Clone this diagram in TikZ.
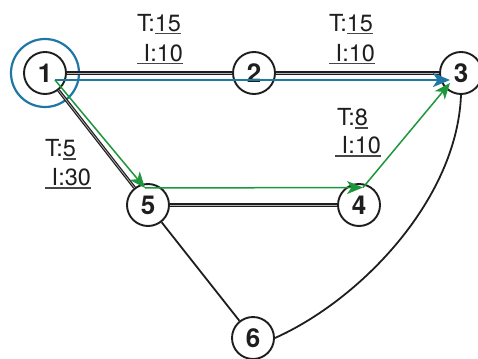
\documentclass[tikz,border=0pt]{standalone}
\usepackage{fontspec}
\setmainfont{TeX Gyre Heros}
\usetikzlibrary{arrows.meta}
\definecolor{pblue}{RGB}{31,119,166}
\definecolor{pgreen}{RGB}{30,150,60}
\definecolor{ulgray}{RGB}{70,70,70}
\definecolor{txt}{RGB}{30,30,30}
\newcommand\myul[1]{\setbox0\hbox{#1}\leavevmode\rlap{\textcolor{ulgray}{\rule[-3pt]{\wd0}{1.6pt}}}\box0}
\begin{document}
\begin{tikzpicture}[x=1pt,y=-1pt,
  vtx/.style={circle,draw=txt,text=txt,line width=1.9pt,minimum size=42pt,inner sep=0pt,font=\fontsize{26}{26}\selectfont\bfseries},
  dbl/.style={draw=txt,line width=1.2pt,double=white!70!black,double distance=0.7pt},
  sgl/.style={draw=txt,line width=1.8pt},
  lbl/.style={anchor=base west,inner sep=0pt,text=txt,font=\fontsize{23.5}{28}\selectfont},
  bluearr/.style={draw=pblue,fill=pblue,line width=2.2pt,-{Stealth[length=17pt,width=14pt,inset=4.5pt]}},
  greenarr/.style={draw=pgreen,fill=pgreen,line width=1.5pt,-{Stealth[length=16pt,width=13pt,inset=4.5pt]}}]
\useasboundingbox (0,0) rectangle (478,358);

\node[vtx] (n1) at (45,73) {1};
\node[vtx] (n2) at (254,73) {2};
\node[vtx] (n3) at (461,73) {3};
\node[vtx] (n4) at (359,205) {4};
\node[vtx] (n5) at (148,205) {5};
\node[vtx] (n6) at (253,338) {6};
\draw[pblue,line width=2.2pt] (n1.center) circle[radius=34pt];

\draw[dbl] (n1) -- (n2);
\draw[dbl] (n2) -- (n3);
\draw[dbl] (n1) -- (n5);
\draw[dbl] (n5) -- (n4);
\draw[sgl] (n5) -- (n6);
\draw[sgl] (n3.south) .. controls (457,200) and (360,300) .. (n6.east);

\coordinate (s) at (55,80);
\coordinate (a5) at (145,188);
\coordinate (a4) at (363,187.5);
\coordinate (a3b) at (450,80);
\coordinate (a3g) at (450,83);

\draw[bluearr] (s) -- (a3b);
\draw[greenarr] (s) -- (a5);
\draw[greenarr] (a5) -- (a4);
\draw[greenarr] (a4) -- (a3g);

\node[lbl] (la1) at (137,31.5) {T:\myul{15}};
\node[lbl] (la2) at (137,61.5) {\myul{\ I:10}};
\node[lbl] (lb1) at (329,31.5) {T:\myul{15}};
\node[lbl] (lb2) at (329,61.5) {\myul{\ I:10}};
\node[lbl] (lc1) at (337,125.5) {T:\myul{8}};
\node[lbl] (lc2) at (335,153.5) {\myul{\ I:10}};
\node[lbl] (ld1) at (45,156.5) {T:\myul{5}};
\node[lbl] (ld2) at (45,185.5) {\myul{\ I:30}};
\end{tikzpicture}
\end{document}
